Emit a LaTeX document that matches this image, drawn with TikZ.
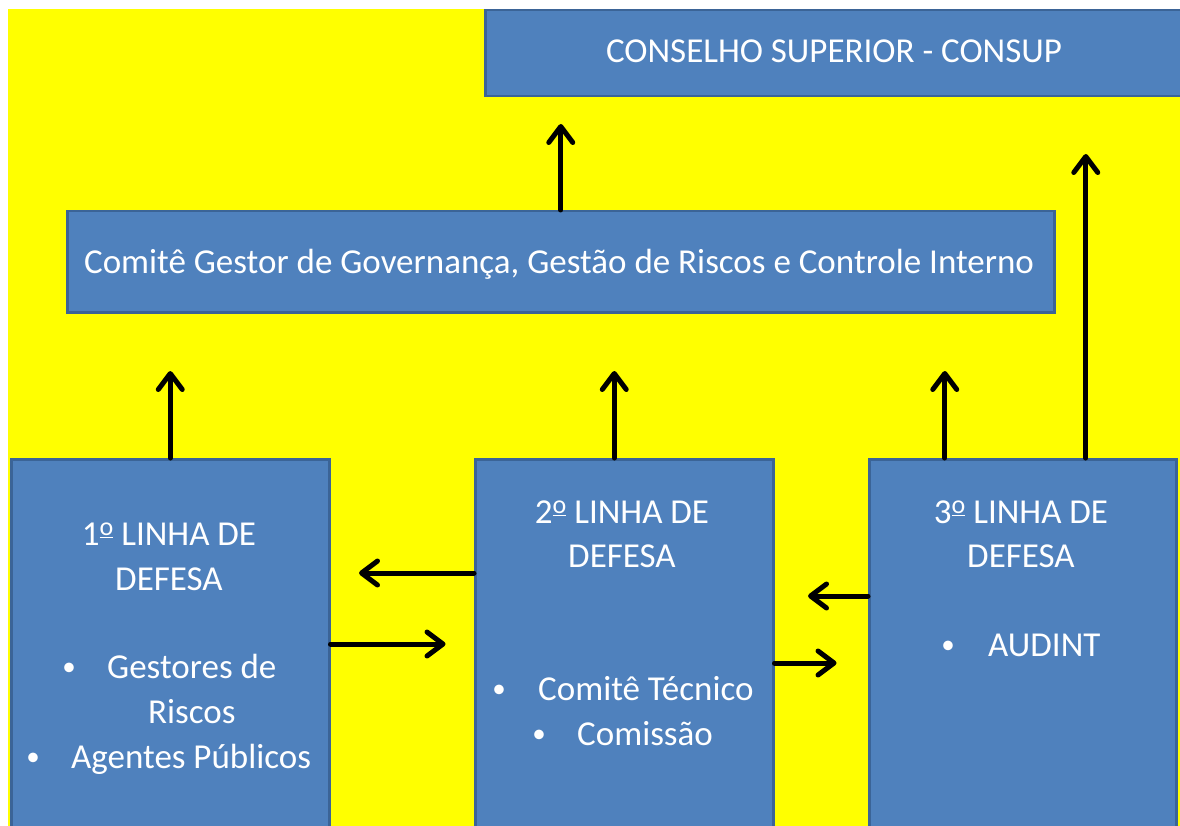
\documentclass[tikz,border=0pt]{standalone}
\usepackage{fontspec}
\setmainfont{Carlito}
\usetikzlibrary{arrows.meta}
\definecolor{boxblue}{HTML}{4F81BD}
\definecolor{boxedge}{HTML}{3B6497}
\definecolor{bgyellow}{HTML}{FFFF00}
\newcommand\myordo{\raisebox{0.26em}{\fontsize{26}{26}\selectfont\underline{o}}}
\begin{document}
\begin{tikzpicture}[x=1pt,y=-1pt,
  box/.style={draw=boxedge, line width=2.5pt, fill=boxblue, inner sep=0pt, anchor=north west},
  lbl/.style={text=white, font=\fontsize{35}{42}\selectfont, inner sep=0pt, anchor=base},
  lblw/.style={lbl, anchor=base west},
  bul/.style={lbl, font=\fontsize{27}{30}\selectfont},
  arr/.style={line width=5pt, line cap=round, -{Straight Barb[length=16pt,width=24pt,round]}}]
\useasboundingbox (0,0) rectangle (1180,826);
\clip (0,0) rectangle (1180,826);
\fill[bgyellow] (8,9) rectangle (1180,826);
% boxes
\node[box, minimum width=705pt, minimum height=86pt] (consup) at (484,9) {};
\node[box, minimum width=987pt, minimum height=101pt] (comite) at (66,210) {};
\node[box, minimum width=318pt, minimum height=400pt] (b1) at (10,458) {};
\node[box, minimum width=298pt, minimum height=400pt] (b2) at (474,458) {};
\node[box, minimum width=307pt, minimum height=400pt] (b3) at (868,458) {};
% texts
\node[lbl] (t0) at (834,63) {CONSELHO SUPERIOR - CONSUP};
\node[lbl] (t1) at (559,273) {Comitê Gestor de Governança, Gestão de Riscos e Controle Interno};
\node[lbl] (a1) at (169,545) {1\myordo{} LINHA DE};
\node[lbl] (a2) at (169,590) {DEFESA};
\node[bul] (a3b) at (69,675) {•};
\node[lblw] (a3) at (107,678) {Gestores de};
\node[lblw] (a4) at (148,723) {Riscos};
\node[bul] (a5b) at (33,765) {•};
\node[lblw] (a5) at (71,768) {Agentes Públicos};
\node[lbl] (c1) at (622,523) {2\myordo{} LINHA DE};
\node[lbl] (c2) at (622,567) {DEFESA};
\node[bul] (c3b) at (499,697) {•};
\node[lblw] (c3) at (538,700) {Comitê Técnico};
\node[bul] (c4b) at (539,742) {•};
\node[lblw] (c4) at (577,745) {Comissão};
\node[lbl] (d1) at (1021,523) {3\myordo{} LINHA DE};
\node[lbl] (d2) at (1021,567) {DEFESA};
\node[bul] (d3b) at (948,653) {•};
\node[lblw] (d3) at (988,656) {AUDINT};
% arrows
\draw[arr] (comite.north) -- ++(0,-86);
\draw[arr] ([xshift=63pt]b3.north) -- ++(0,-304);
\draw[arr] (b1.north) -- ++(0,-87);
\draw[arr] ([xshift=-10pt]b2.north) -- ++(0,-87);
\draw[arr] ([xshift=-78pt]b3.north) -- ++(0,-87);
\draw[arr] ([yshift=-115pt]b2.north west) -- ++(-115,0);
\draw[arr] ([yshift=-186pt]b1.north east) -- ++(115,0);
\draw[arr] ([yshift=-138pt]b3.north west) -- ++(-60,0);
\draw[arr] ([yshift=-205pt]b2.north east) -- ++(62,0);
\end{tikzpicture}
\end{document}
